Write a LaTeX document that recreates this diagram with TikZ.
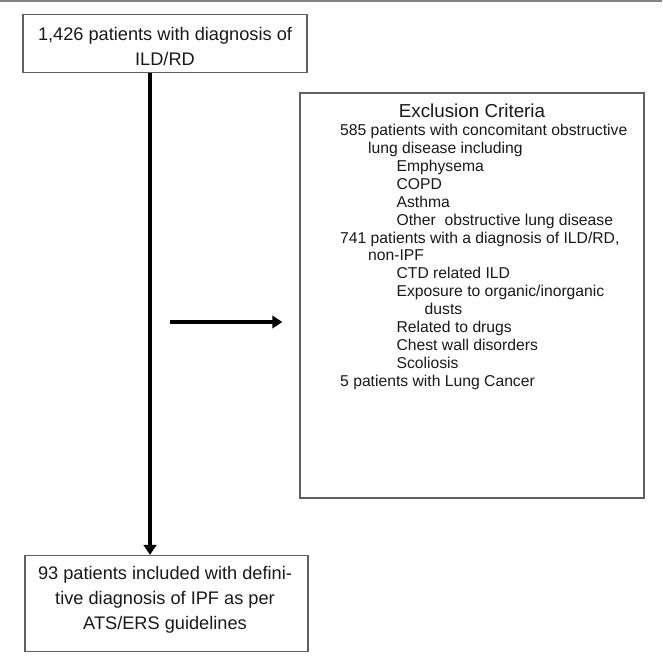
\documentclass[tikz,border=0pt]{standalone}
\usepackage{fontspec}
\setmainfont{Liberation Sans}
\usetikzlibrary{arrows.meta}
\definecolor{boxgray}{RGB}{95,95,95}
\definecolor{rulegray}{RGB}{130,130,130}
\definecolor{ink}{RGB}{25,25,25}
\begin{document}
\begin{tikzpicture}[x=1pt,y=-1pt,
  box/.style={draw=boxgray,line width=1.5pt,inner sep=0pt,rectangle},
  bigtxt/.style={text=ink,inner sep=0pt,align=center,font=\fontsize{18.2}{25.5}\selectfont},
  item/.style={text=ink,inner sep=0pt,anchor=base west,font=\fontsize{15.7}{18}\selectfont},
  arr/.style={draw=black,line width=3.6pt,-{Triangle[width=12.5pt,length=10pt]}}]
\useasboundingbox (0,0) rectangle (662,669);
% top rule
\draw[rulegray,line width=2pt] (0,1) -- (662,1);
% boxes
\node[box,minimum width=284pt,minimum height=58.4pt] (top) at (165,43.5) {};
\node[bigtxt,anchor=north] (toptxt) at (165,27.1) {1,426 patients with diagnosis of\\ILD/RD};
\node[box,minimum width=283pt,minimum height=96pt] (bot) at (166.5,603.7) {};
\node[bigtxt,anchor=north,font=\fontsize{18.2}{24.7}\selectfont] (bottxt) at (165,566.3) {93 patients included with defini-\\tive diagnosis of IPF as per\\ATS/ERS guidelines};
\node[box,minimum width=344pt,minimum height=405pt] (excl) at (472,295.5) {};
% exclusion text
\node[text=ink,inner sep=0pt,anchor=base,font=\fontsize{18.8}{22}\selectfont] (title) at (472,117.4) {Exclusion Criteria};
\node[item] (l1) at (340,135.5) {585 patients with concomitant obstructive};
\node[item] (l2) at (368,153.5) {lung disease including};
\node[item] (l3) at (396.4,171.4) {Emphysema};
\node[item] (l4) at (396.4,189.3) {COPD};
\node[item] (l5) at (396.4,207.2) {Asthma};
\node[item] (l6) at (396.4,225.1) {Other\ \ obstructive lung disease};
\node[item] (l7) at (340,243.0) {741 patients with a diagnosis of ILD/RD,};
\node[item] (l8) at (368,260.9) {non-IPF};
\node[item] (l9) at (396.4,278.8) {CTD related ILD};
\node[item] (l10) at (396.4,296.7) {Exposure to organic/inorganic};
\node[item] (l11) at (424.5,314.6) {dusts};
\node[item] (l12) at (396.4,332.5) {Related to drugs};
\node[item] (l13) at (396.4,350.4) {Chest wall disorders};
\node[item] (l14) at (396.4,368.3) {Scoliosis};
\node[item] (l15) at (340,386.2) {5 patients with Lung Cancer};
% connectors
\coordinate (vx) at (150,0);
\coordinate (hs) at (170,322);
\draw[arr] (top.south -| vx) -- (bot.north -| vx);
\draw[arr,shorten >=17pt] (hs) -- (hs -| excl.west);
\end{tikzpicture}
\end{document}
